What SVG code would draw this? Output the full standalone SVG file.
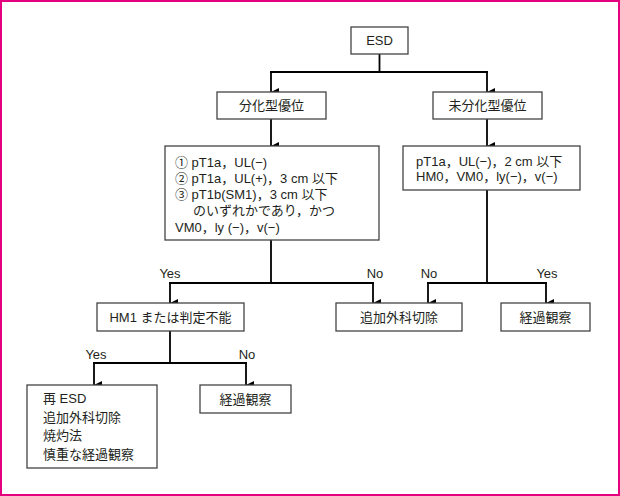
<svg xmlns="http://www.w3.org/2000/svg" width="620" height="496" viewBox="0 0 620 496">
<defs>
<marker id="ah" markerUnits="userSpaceOnUse" markerWidth="8" markerHeight="9" refX="4" refY="8" orient="auto-start-reverse" viewBox="0 0 8 9">
<path d="M0,0 L8,0 L4,8 Z" fill="#000"/>
</marker>
</defs>
<style>
.box{fill:#fff;stroke:#444;stroke-width:1.3}
.t{font-family:"Liberation Sans","Noto Sans CJK JP",sans-serif;font-size:13px;fill:#231f20}
.c{text-anchor:middle}
.ln{fill:none;stroke:#000;stroke-width:1.8}
.ar{fill:none;stroke:#000;stroke-width:1.8;marker-end:url(#ah)}
</style>
<rect x="1" y="1" width="618" height="494" fill="#fff" stroke="#e4007f" stroke-width="2"/>
<g id="connectors">
<path class="ln" d="M379.5,54 V72 M270,72 H488"/>
<path class="ar" d="M271,72 V92"/>
<path class="ar" d="M487,72 V92"/>
<path class="ar" d="M271,119 V146"/>
<path class="ar" d="M487,119 V146"/>
<path class="ln" d="M271,240 V283 M169,283 H374"/>
<path class="ar" d="M170,283 V303"/>
<path class="ar" d="M373,283 V303"/>
<path class="ln" d="M487,190 V283 M427,283 H547"/>
<path class="ar" d="M428,283 V303"/>
<path class="ar" d="M546,283 V303"/>
<path class="ln" d="M170,331 V363 M93,363 H247"/>
<path class="ar" d="M94,363 V385"/>
<path class="ar" d="M246,363 V385"/>
<text class="t c" x="170" y="278">Yes</text>
<text class="t c" x="375" y="278">No</text>
<text class="t c" x="429" y="278">No</text>
<text class="t c" x="547" y="278">Yes</text>
<text class="t c" x="96" y="359">Yes</text>
<text class="t c" x="247" y="359">No</text>
</g>
<g id="esd">
<rect class="box" x="351" y="27" width="57" height="27"/>
<text class="t c" x="379.5" y="45">ESD</text>
</g>
<g id="bunka">
<rect class="box" x="217" y="92" width="109" height="27"/>
<text class="t c" x="271.5" y="110">分化型優位</text>
</g>
<g id="mibunka">
<rect class="box" x="433" y="92" width="109" height="27"/>
<text class="t c" x="487.5" y="110">未分化型優位</text>
</g>
<g id="crit-left">
<rect class="box" x="165" y="146" width="214" height="94"/>
<text class="t" x="175" y="167">① pT1a，UL(−)</text>
<text class="t" x="175" y="183">② pT1a，UL(+)，3 cm 以下</text>
<text class="t" x="175" y="199">③ pT1b(SM1)，3 cm 以下</text>
<text class="t" x="193" y="215">のいずれかであり，かつ</text>
<text class="t" x="175" y="232">VM0，ly (−)，v(−)</text>
</g>
<g id="crit-right">
<rect class="box" x="403" y="146" width="177" height="44"/>
<text class="t" x="416" y="166">pT1a，UL(−)，2 cm 以下</text>
<text class="t" x="416" y="181">HM0，VM0，ly(−)，v(−)</text>
</g>
<g id="hm1">
<rect class="box" x="97" y="303" width="147" height="28"/>
<text class="t c" x="170.5" y="322">HM1 または判定不能</text>
</g>
<g id="tsuika">
<rect class="box" x="336" y="303" width="126" height="28"/>
<text class="t c" x="399" y="322">追加外科切除</text>
</g>
<g id="keika-right">
<rect class="box" x="501" y="303" width="89" height="28"/>
<text class="t c" x="545.5" y="322">経過観察</text>
</g>
<g id="options">
<rect class="box" x="27" y="385" width="130" height="83"/>
<text class="t" x="43" y="403">再 ESD</text>
<text class="t" x="43" y="422">追加外科切除</text>
<text class="t" x="43" y="440">焼灼法</text>
<text class="t" x="43" y="459">慎重な経過観察</text>
</g>
<g id="keika-left">
<rect class="box" x="200" y="385" width="91" height="28"/>
<text class="t c" x="245.5" y="404">経過観察</text>
</g>
</svg>
